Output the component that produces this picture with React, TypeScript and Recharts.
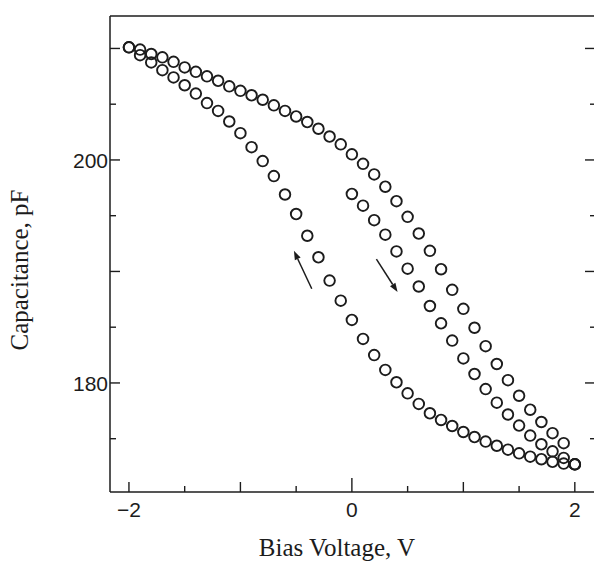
import { ReferenceLine, Scatter, ScatterChart, XAxis, YAxis } from "recharts";

const INK = "#1c1c1c";

// First pass: 0 V -> +2 V
const firstSweepV = [0, 0.1, 0.2, 0.3, 0.4, 0.5, 0.6, 0.7, 0.8, 0.9, 1.0, 1.1, 1.2, 1.3, 1.4, 1.5, 1.6, 1.7, 1.8, 1.9, 2.0];
const firstSweepC = [196.95, 195.9, 194.6, 193.3, 191.8, 190.25, 188.65, 186.9, 185.35, 183.8, 182.2, 180.8, 179.45, 178.23, 177.17, 176.18, 175.28, 174.5, 173.87, 173.28, 172.7];

// Second pass: +2 V -> -2 V (listed left to right)
const downSweepV = [-2.0, -1.9, -1.8, -1.7, -1.6, -1.5, -1.4, -1.3, -1.2, -1.1, -1.0, -0.9, -0.8, -0.7, -0.6, -0.5, -0.4, -0.3, -0.2, -0.1, 0, 0.1, 0.2, 0.3, 0.4, 0.5, 0.6, 0.7, 0.8, 0.9, 1.0, 1.1, 1.2, 1.3, 1.4, 1.5, 1.6, 1.7, 1.8, 1.9, 2.0];
const downSweepC = [210.1, 209.4, 208.75, 208.05, 207.4, 206.7, 205.95, 205.1, 204.4, 203.45, 202.4, 201.15, 199.9, 198.55, 196.9, 195.15, 193.2, 191.27, 189.18, 187.38, 185.65, 183.95, 182.5, 181.17, 180.06, 179.07, 178.12, 177.28, 176.68, 176.14, 175.6, 175.15, 174.74, 174.37, 174.02, 173.69, 173.39, 173.16, 172.93, 172.77, 172.7];

// Third pass: -2 V -> +2 V
const upSweepV = [-2.0, -1.9, -1.8, -1.7, -1.6, -1.5, -1.4, -1.3, -1.2, -1.1, -1.0, -0.9, -0.8, -0.7, -0.6, -0.5, -0.4, -0.3, -0.2, -0.1, 0, 0.1, 0.2, 0.3, 0.4, 0.5, 0.6, 0.7, 0.8, 0.9, 1.0, 1.1, 1.2, 1.3, 1.4, 1.5, 1.6, 1.7, 1.8, 1.9, 2.0];
const upSweepC = [210.1, 209.9, 209.5, 209.2, 208.8, 208.3, 207.9, 207.5, 207.1, 206.6, 206.2, 205.8, 205.4, 204.9, 204.4, 203.9, 203.4, 202.8, 202.1, 201.4, 200.5, 199.65, 198.7, 197.6, 196.3, 194.9, 193.4, 191.85, 190.2, 188.35, 186.65, 184.95, 183.3, 181.7, 180.25, 178.85, 177.6, 176.5, 175.5, 174.6, 172.7];

const xTicks = [-2, -1.5, -1, -0.5, 0, 0.5, 1, 1.5, 2];
const xLabels = [-2, 0, 2];
const yTicks = [175, 180, 185, 190, 195, 200, 205, 210];
const yLabels = [180, 200];

const xDomain = [-2.17, 2.19];
const yDomain = [170.22, 212.91];

// sweep-direction arrows: tail -> head
const arrowTails = [
  { x: -0.36, y: 188.45 },
  { x: 0.22, y: 191.1 },
];
const arrowHeads = [
  { x: -0.52, y: 191.85 },
  { x: 0.41, y: 188.15 },
];

const pts = (v: number[], c: number[]) => v.map((x, i) => ({ v: x, c: c[i] }));

const GAP = 6;
const sans = "'Liberation Sans', Arial, sans-serif";
const serif = "'Liberation Serif', 'Times New Roman', serif";

const Ring = (p: any) => (
  <circle cx={p.cx} cy={p.cy} r={5.3} fill="none" stroke={INK} strokeWidth={1.9} />
);

function BottomTick({ x, y, payload }: any) {
  const v = payload.value;
  const ay = y - GAP;
  const len = v === 0 ? 14 : Number.isInteger(v) ? 10 : 6;
  return (
    <g>
      <line x1={x} y1={ay} x2={x} y2={ay - len} stroke={INK} strokeWidth={1.4} />
      {xLabels.includes(v) && (
        <text x={x} y={ay + 10} dy="0.72em" textAnchor="middle" fontFamily={sans} fontSize={21} fill={INK}>
          {v < 0 ? `\u2212${Math.abs(v)}` : v}
        </text>
      )}
    </g>
  );
}

function TopTick({ x, y, payload }: any) {
  const v = payload.value;
  const ay = y + GAP;
  const len = Number.isInteger(v) ? 11 : 7;
  return <line x1={x} y1={ay} x2={x} y2={ay + len} stroke={INK} strokeWidth={1.4} />;
}

function LeftTick({ x, y, payload }: any) {
  const v = payload.value;
  const ax = x + GAP;
  const len = v % 10 === 0 ? 10 : 6;
  return (
    <g>
      <line x1={ax} y1={y} x2={ax + len} y2={y} stroke={INK} strokeWidth={1.4} />
      {yLabels.includes(v) && (
        <text x={ax - 2} y={y} dy="0.36em" textAnchor="end" fontFamily={sans} fontSize={21} fill={INK}>
          {v}
        </text>
      )}
    </g>
  );
}

function RightTick({ x, y, payload }: any) {
  const v = payload.value;
  const ax = x - GAP;
  const len = v % 10 === 0 ? 11 : 6;
  return <line x1={ax} y1={y} x2={ax - len} y2={y} stroke={INK} strokeWidth={1.4} />;
}

function Arrow({ x1, y1, x2, y2 }: any) {
  const a = Math.atan2(y2 - y1, x2 - x1);
  const L = 9;
  const W = 3.2;
  const bx = x2 - L * Math.cos(a);
  const by = y2 - L * Math.sin(a);
  const nx = -Math.sin(a) * W;
  const ny = Math.cos(a) * W;
  return (
    <g>
      <line x1={x1} y1={y1} x2={bx} y2={by} stroke={INK} strokeWidth={1.5} />
      <path d={`M${x2},${y2} L${bx + nx},${by + ny} L${bx - nx},${by - ny} Z`} fill={INK} />
    </g>
  );
}

export default function App() {
  return (
    <div
      style={{
        position: "absolute",
        left: 0,
        top: 0,
        width: 594,
        height: 561,
        overflow: "hidden",
        background: "#fff",
      }}
    >
      <ScatterChart width={610} height={600} margin={{ top: 6, right: 4, bottom: 68, left: 50 }}>
        <XAxis
          dataKey="v"
          type="number"
          domain={xDomain}
          allowDataOverflow
          ticks={xTicks}
          interval={0}
          tickSize={0}
          tickMargin={GAP}
          tickLine={false}
          tick={<BottomTick />}
          axisLine={{ stroke: INK, strokeWidth: 1.5 }}
          height={40}
          label={{
            content: ({ viewBox }: any) => (
              <text
                x={viewBox.x + viewBox.width / 2 - 16}
                y={viewBox.y + 64}
                textAnchor="middle"
                fontFamily={serif}
                fontSize={25}
                fill={INK}
              >
                Bias Voltage, V
              </text>
            ),
          }}
        />
        <XAxis
          xAxisId="top"
          orientation="top"
          type="number"
          domain={xDomain}
          allowDataOverflow
          ticks={xTicks}
          interval={0}
          tickSize={0}
          tickMargin={GAP}
          tickLine={false}
          tick={<TopTick />}
          axisLine={{ stroke: INK, strokeWidth: 1.5 }}
          height={10}
        />
        <YAxis
          dataKey="c"
          type="number"
          domain={yDomain}
          allowDataOverflow
          ticks={yTicks}
          interval={0}
          tickSize={0}
          tickMargin={GAP}
          tickLine={false}
          tick={<LeftTick />}
          axisLine={{ stroke: INK, strokeWidth: 1.5 }}
          width={60}
          label={{
            content: ({ viewBox }: any) => {
              const cx = viewBox.x - 22;
              const cy = viewBox.y + viewBox.height / 2 + 16;
              return (
                <text
                  x={cx}
                  y={cy}
                  transform={`rotate(-90 ${cx} ${cy})`}
                  textAnchor="middle"
                  fontFamily={serif}
                  fontSize={25}
                  fill={INK}
                >
                  Capacitance,  pF
                </text>
              );
            },
          }}
        />
        <YAxis
          yAxisId="right"
          orientation="right"
          type="number"
          domain={yDomain}
          allowDataOverflow
          ticks={yTicks}
          interval={0}
          tickSize={0}
          tickMargin={GAP}
          tickLine={false}
          tick={<RightTick />}
          axisLine={{ stroke: INK, strokeWidth: 1.5 }}
          width={10}
        />
        <Scatter data={pts(firstSweepV, firstSweepC)} shape={Ring} isAnimationActive={false} />
        <Scatter data={pts(downSweepV, downSweepC)} shape={Ring} isAnimationActive={false} />
        <Scatter data={pts(upSweepV, upSweepC)} shape={Ring} isAnimationActive={false} />
        {arrowTails.map((t, i) => (
          <ReferenceLine key={i} segment={[t, arrowHeads[i]]} shape={Arrow} />
        ))}
      </ScatterChart>
    </div>
  );
}
